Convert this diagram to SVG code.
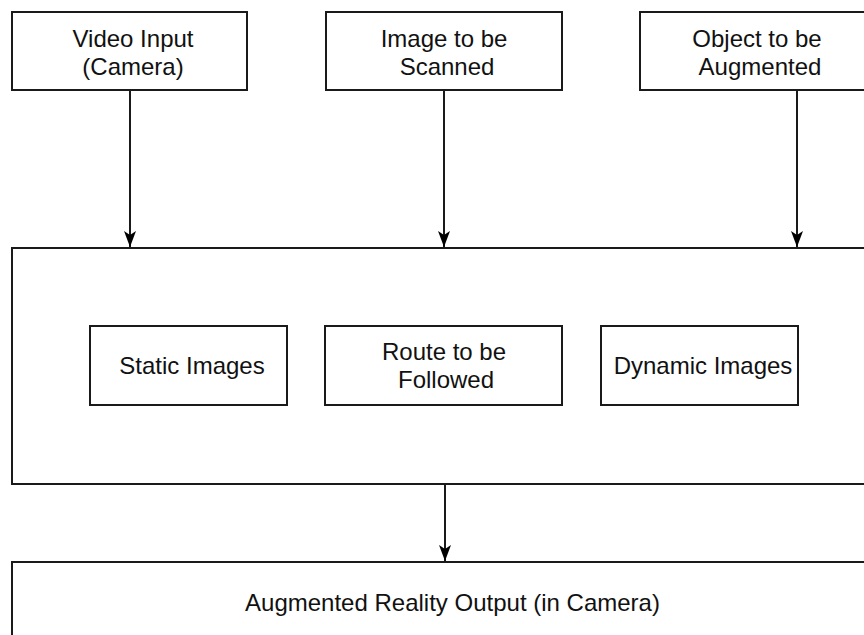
<svg xmlns="http://www.w3.org/2000/svg" width="864" height="635" viewBox="0 0 864 635">
<style>
.box{fill:#fff;stroke:#1a1a1a;stroke-width:2}
.lbl{font-family:"Liberation Sans",Arial,sans-serif;font-size:24px;fill:#111;text-anchor:middle}
.con{stroke:#1a1a1a;stroke-width:2;fill:none}
</style>
<defs>
<marker id="arr" markerUnits="userSpaceOnUse" markerWidth="18" markerHeight="14" refX="17" refY="7" orient="auto" viewBox="0 0 18 14">
<path d="M1,1 L5,7 L1,13 L17,7 Z" fill="#000"/>
</marker>
</defs>
<rect x="0" y="0" width="864" height="635" fill="#fff"/>
<g id="video-input">
<rect class="box" x="12" y="12" width="235" height="78"/>
<text class="lbl" x="133" y="47">Video Input</text>
<text class="lbl" x="133" y="75">(Camera)</text>
</g>
<g id="image-scanned">
<rect class="box" x="326" y="12" width="236" height="78"/>
<text class="lbl" x="444" y="47">Image to be</text>
<text class="lbl" x="447" y="75">Scanned</text>
</g>
<g id="object-augmented">
<rect class="box" x="640" y="12" width="240" height="78"/>
<text class="lbl" x="757" y="47">Object to be</text>
<text class="lbl" x="760" y="75">Augmented</text>
</g>
<g id="processing">
<rect class="box" x="12" y="248" width="870" height="236"/>
</g>
<g id="static-images">
<rect class="box" x="90" y="326" width="197" height="79"/>
<text class="lbl" x="192" y="374">Static Images</text>
</g>
<g id="route-followed">
<rect class="box" x="325" y="326" width="237" height="79"/>
<text class="lbl" x="444" y="360">Route to be</text>
<text class="lbl" x="446" y="388">Followed</text>
</g>
<g id="dynamic-images">
<rect class="box" x="601" y="326" width="197" height="79"/>
<text class="lbl" x="703" y="374">Dynamic Images</text>
</g>
<g id="ar-output">
<rect class="box" x="12" y="562" width="880" height="90"/>
<text class="lbl" x="452.5" y="611">Augmented Reality Output (in Camera)</text>
</g>
<g id="connectors">
<line class="con" x1="130" y1="90" x2="130" y2="247" marker-end="url(#arr)"/>
<line class="con" x1="444" y1="90" x2="444" y2="247" marker-end="url(#arr)"/>
<line class="con" x1="797" y1="90" x2="797" y2="247" marker-end="url(#arr)" stroke="#555"/>
<line class="con" x1="445" y1="484" x2="445" y2="561" marker-end="url(#arr)" stroke="#555"/>
</g>
</svg>
